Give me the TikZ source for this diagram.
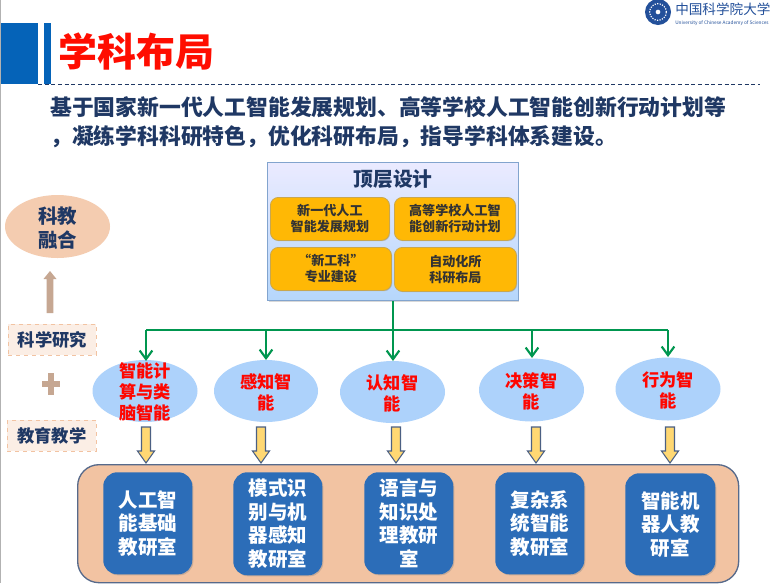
\documentclass[tikz,border=0pt]{standalone}
\usepackage{fontspec}
\setmainfont{Noto Sans CJK SC}
\usetikzlibrary{shadows,arrows.meta,shapes.geometric}
\definecolor{navy}{HTML}{1F3864}
\definecolor{hblue}{HTML}{0563B8}
\definecolor{flow}{HTML}{00964F}
\definecolor{peach}{HTML}{F2C3A2}
\definecolor{labblue}{HTML}{2C6DB8}
\definecolor{skyb}{HTML}{ADD2FB}
\definecolor{tan}{HTML}{C6A792}
\definecolor{amber}{HTML}{FFB805}
\definecolor{logob}{HTML}{23509A}
\definecolor{yarr}{HTML}{FFD873}
\tikzset{
  every node/.style={inner sep=0pt,font=\bfseries},
  orange/.style={draw=amber!70!black!70,line width=.6pt,fill=amber,rounded corners=6pt,text=black!80,align=center,font=\bfseries\fontsize{9.8}{12}\selectfont,drop shadow={shadow xshift=.6pt,shadow yshift=-.6pt,opacity=.35}},
  field/.style={ellipse,fill=skyb},
  fieldtext/.style={text=red!95!orange,align=center,font=\bfseries\fontsize{12.9}{15.6}\selectfont},
  lab/.style={fill=labblue,rounded corners=10.5pt,text=white,align=center,font=\bfseries\fontsize{14.6}{17.6}\selectfont,drop shadow={shadow xshift=.8pt,shadow yshift=-.8pt,opacity=.35}},
  side/.style={draw=peach,dashed,line width=.6pt,fill=peach!28,text=navy,font=\bfseries\fontsize{13}{13}\selectfont},
  flowline/.style={draw=flow,line width=1.6pt},
  flowarrow/.style={flowline,-{Straight Barb[length=6.5pt,width=9.5pt,line width=1.6pt]}},
  yarrow/.style={draw=navy!80,line width=.8pt,fill=yarr,line join=miter}
}
\newcommand{\obox}[6]{\node[orange,minimum width=#3*.75pt,minimum height=#4*.75pt,anchor=north west] (#5) at (#1,#2) {#6};}
\newcommand{\fld}[5]{\node[field,minimum width=#3*.75pt,minimum height=#4*.75pt] (#1) at (#2) {}; \node[fieldtext] (#1t) at ([yshift=-.75pt]#1.center) {#5};}
\newcommand{\lbx}[6]{\node[lab,minimum width=#3*.75pt,minimum height=#4*.75pt,anchor=north west] (#5) at (#1,#2) {#6};}
\newcommand{\yar}[1]{\draw[yarrow] (#1-4.5,427) -- (#1+4.5,427) -- (#1+4.5,451) -- (#1+8.5,451) -- (#1,463) -- (#1-8.5,451) -- (#1-4.5,451) -- cycle;}
\begin{document}
\begin{tikzpicture}[x=.75pt,y=-.75pt]
\useasboundingbox (0,0) rectangle (784,583);
\fill[white] (0,0) rectangle (784,583);
\fill[black!30] (0,0) rectangle (1,583);
% header
\fill[hblue] (1,23) rectangle (38,84);
\fill[hblue] (44,23) rectangle (51,84);
\draw[navy,densely dashed,line width=.6pt] (38,84) -- (760,84);
\node[anchor=west,text=red!90!orange,font=\bfseries\fontsize{29.2}{29}\selectfont] (title) at (58,52) {学科布局};
\node[anchor=north west,text=navy,align=left,font=\bfseries\fontsize{16.35}{21.75}\selectfont] (intro) at (50,96) {基于国家新一代人工智能发展规划、高等学校人工智能创新行动计划等\\，凝练学科科研特色，优化科研布局，指导学科体系建设。};
% logo
\node[circle,fill=logob,minimum size=19.5pt] (seal) at (658,12) {};
\node[circle,draw=white,densely dotted,line width=.9pt,minimum size=12.5pt] (sealring) at (658,12) {};
\node[circle,fill=white,minimum size=3.5pt] (sealcore) at (658,12) {};
\node[anchor=west,text=logob,font=\fontsize{10.2}{11}\selectfont] (logocn) at (675,9) {中国科学院大学};
\node[anchor=west,text=logob,font=\fontsize{3.55}{5}\selectfont] (logoen) at (675,23) {University of Chinese Academy of Sciences};
% top design
\node[draw=skyb!70!navy,line width=.7pt,top color=blue!8!white,bottom color=skyb!90,minimum width=188pt,minimum height=103.5pt,anchor=north west,drop shadow={shadow xshift=.8pt,shadow yshift=-.8pt,opacity=.3}] (top) at (267,162) {};
\node[text=navy,font=\bfseries\fontsize{14.8}{15}\selectfont] (toptitle) at (393,179) {顶层设计};
\obox{270}{197}{119}{43}{o1}{新一代人工\\智能发展规划}
\obox{394}{197}{121}{43}{o2}{高等学校人工智\\能创新行动计划}
\obox{270}{247}{121}{43}{o3}{“新工科”\\专业建设}
\obox{394}{247}{122}{44}{o4}{自动化所\\科研布局}
% fields
\fld{f1}{145,391}{105}{62}{智能计\\算与类\\脑智能}
\fld{f2}{266,391}{104}{62}{感知智\\能}
\fld{f3}{392.5,392}{105}{62}{认知智\\能}
\fld{f4}{531.5,390}{105}{63}{决策智\\能}
\fld{f5}{668,389}{105}{63}{行为智\\能}
% flow
\coordinate (bus) at (393,330);
\coordinate (busl) at (146,330);
\coordinate (busr) at (668,330);
\draw[flowline] (busl) -- (busr);
\draw[flowline] (top.south -| bus) -- (bus);
\draw[flowarrow] (busl) -- (146,361);
\draw[flowarrow] (266,330) -- (266,360);
\draw[flowarrow] (bus) -- (393,361);
\draw[flowarrow] (532,330) -- (532,358);
\draw[flowarrow] (busr) -- (668,357);
% container
\node[draw=navy!75,line width=1pt,fill=peach,rounded corners=16pt,minimum width=495.75pt,minimum height=88.5pt,anchor=north west] (cont) at (77,464) {};
\lbx{103}{472}{89}{102}{l1}{人工智\\能基础\\教研室}
\lbx{233}{472}{89}{103}{l2}{模式识\\别与机\\器感知\\教研室}
\lbx{364}{472}{89}{102}{l3}{语言与\\知识处\\理教研\\室}
\lbx{495}{472}{89}{102}{l4}{复杂系\\统智能\\教研室}
\lbx{625}{473}{90}{102}{l5}{智能机\\器人教\\研室}
% yellow arrows
\yar{146}
\yar{261}
\yar{396}
\yar{536}
\yar{670}
% left
\node[ellipse,fill=peach!85,minimum width=78.75pt,minimum height=47.25pt] (sci) at (57.5,226.5) {};
\node[text=navy,align=center,font=\bfseries\fontsize{14.6}{17.4}\selectfont] (scit) at (57.5,228) {科教\\融合};
\fill[tan] (50,271) -- (56.5,279) -- (53.3,279) -- (53.3,313) -- (46.7,313) -- (46.7,279) -- (43.5,279) -- cycle;
\node[side,minimum width=66pt,minimum height=23pt,anchor=north west] (res) at (8,324) {科学研究};
\node[side,minimum width=66.75pt,minimum height=23pt,anchor=north west] (edu) at (7,420) {教育教学};
\fill[tan] (41.5,381) rectangle (59.5,387);
\fill[tan] (47.5,373) rectangle (53.5,395);
\end{tikzpicture}
\end{document}
